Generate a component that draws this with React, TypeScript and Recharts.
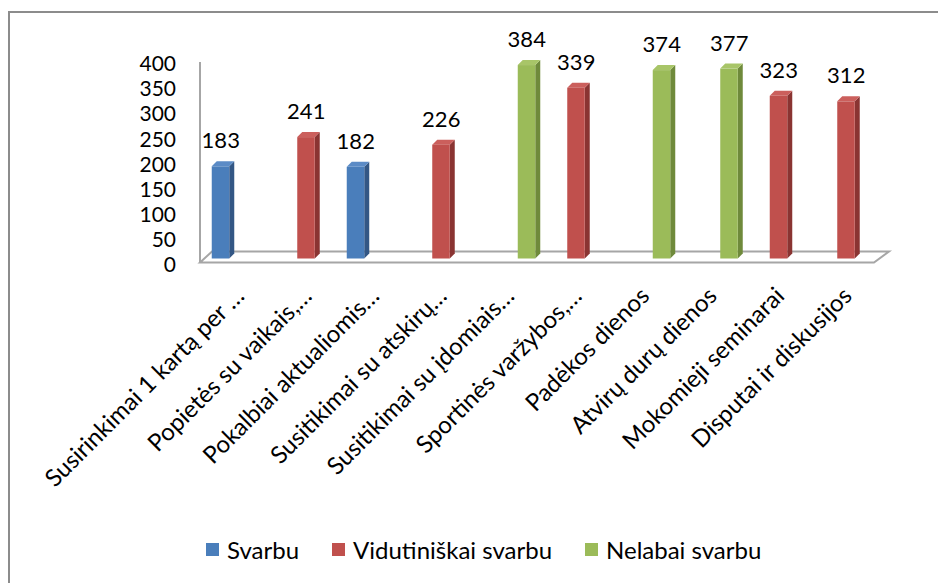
import React from 'react';
import { BarChart, Bar, XAxis, YAxis, LabelList, Legend, ReferenceArea } from 'recharts';

const categories = [
  'Susirinkimai 1 kartą per …',
  'Popietės su vaikais,…',
  'Pokalbiai aktualiomis…',
  'Susitikimai su atskirų…',
  'Susitikimai su įdomiais…',
  'Sportinės varžybos,…',
  'Padėkos dienos',
  'Atvirų durų dienos',
  'Mokomieji seminarai',
  'Disputai ir diskusijos',
];
const svarbu = [183, null, 182, null, null, null, null, null, null, null];
const vidutiniskai = [null, 241, null, 226, null, 339, null, null, 323, 312];
const nelabai = [null, null, null, null, 384, null, 374, 377, null, null];
const yTicks = [0, 50, 100, 150, 200, 250, 300, 350, 400];
const seriesNames = ['Svarbu', 'Vidutiniškai svarbu', 'Nelabai svarbu'];

const data = categories.map((name, i) => ({
  name,
  svarbu: svarbu[i],
  vidutiniskai: vidutiniskai[i],
  nelabai: nelabai[i],
}));

const FONT = 'Lato, "Open Sans", sans-serif';
const DEPTH = 5;

const BLUE = { front: '#4a7ebb', side: '#335785', top: '#5b8bc6' };
const RED = { front: '#c0504d', side: '#8a3432', top: '#cb5f5c' };
const GREEN = { front: '#9bbb59', side: '#6f8a3b', top: '#a8c568' };
const seriesColors = [BLUE.front, RED.front, GREEN.front];

function make3DBar(c: { front: string; side: string; top: string }) {
  return (props: any) => {
    const { x, y, width, height } = props;
    if (!height || height <= 0) return null;
    const w = width - 0.5;
    const d = DEPTH;
    return (
      <g>
        <polygon
          points={`${x + w},${y} ${x + w + d},${y - d} ${x + w + d},${y + height - d} ${x + w},${y + height}`}
          fill={c.side}
        />
        <polygon
          points={`${x},${y} ${x + d},${y - d} ${x + w + d},${y - d} ${x + w},${y}`}
          fill={c.top}
        />
        <rect x={x} y={y} width={w} height={height} fill={c.front} />
      </g>
    );
  };
}

// back wall line and floor of the 3D plot
const Floor = (props: any) => {
  const { x, y, width, height } = props;
  const bottom = y + height;
  const stroke = '#a6a6a6';
  return (
    <g>
      <line x1={x - 5} y1={y + 5} x2={x - 5} y2={bottom + 4} stroke={stroke} strokeWidth={2} />
      <polygon
        points={`${x - 5},${bottom + 4} ${x + width - 6},${bottom + 4} ${x + width + 9},${bottom - 7} ${x + 7},${bottom - 7}`}
        fill="#ffffff"
        stroke={stroke}
        strokeWidth={2}
      />
    </g>
  );
};

const CategoryTick = (props: any) => {
  const { x, y, payload } = props;
  const tx = x + 7;
  const ty = y + 31;
  return (
    <text
      x={tx}
      y={ty}
      transform={`rotate(-45, ${tx}, ${ty})`}
      textAnchor="end"
      fontSize={24}
      fontFamily={FONT}
      fill="#000"
    >
      {payload.value}
    </text>
  );
};

const renderLegend = () => (
  <div style={{ display: 'flex', paddingLeft: 206, fontFamily: FONT, fontSize: 24, color: '#000' }}>
    {seriesNames.map((name, i) => (
      <div key={name} style={{ display: 'flex', alignItems: 'center', marginRight: 33 }}>
        <span style={{ width: 13, height: 13, background: seriesColors[i], marginRight: 8, display: 'inline-block' }} />
        <span>{name}</span>
      </div>
    ))}
  </div>
);

const labelStyle = { fontSize: 22, fill: '#000', fontFamily: FONT };

export default function App() {
  return (
    <div style={{ position: 'absolute', left: 0, top: 0, width: 938, height: 583, background: '#fff' }}>
      <div
        style={{
          position: 'absolute',
          left: 8,
          top: 11,
          right: 0,
          bottom: 0,
          borderLeft: '2px solid #8c8c8c',
          borderTop: '2px solid #8c8c8c',
        }}
      />
      <BarChart
        width={938}
        height={583}
        data={data}
        margin={{ top: 57, right: 58, left: 0, bottom: 0 }}
        barCategoryGap="10%"
        barGap={0}
        style={{ position: 'absolute', left: 0, top: 0 }}
      >
        <ReferenceArea y1={0} y2={400} ifOverflow="visible" shape={Floor} />
        <XAxis
          dataKey="name"
          interval={0}
          height={324.5}
          tickLine={false}
          axisLine={false}
          tick={<CategoryTick />}
        />
        <YAxis
          width={205}
          domain={[0, 400]}
          ticks={yTicks}
          interval={0}
          tickLine={false}
          axisLine={false}
          tickMargin={23}
          tick={{ fontSize: 21, fill: '#000', fontFamily: FONT, dy: 6.5 }}
        />
        <Legend
          layout="horizontal"
          align="center"
          verticalAlign="middle"
          wrapperStyle={{ top: 535, left: 0, width: 938 }}
          content={renderLegend}
        />
        <Bar dataKey="svarbu" name={seriesNames[0]} fill={BLUE.front} shape={make3DBar(BLUE)} isAnimationActive={false}>
          <LabelList dataKey="svarbu" position="top" offset={18} style={labelStyle} />
        </Bar>
        <Bar dataKey="vidutiniskai" name={seriesNames[1]} fill={RED.front} shape={make3DBar(RED)} isAnimationActive={false}>
          <LabelList dataKey="vidutiniskai" position="top" offset={18} style={labelStyle} />
        </Bar>
        <Bar dataKey="nelabai" name={seriesNames[2]} fill={GREEN.front} shape={make3DBar(GREEN)} isAnimationActive={false}>
          <LabelList dataKey="nelabai" position="top" offset={18} style={labelStyle} />
        </Bar>
      </BarChart>
    </div>
  );
}
